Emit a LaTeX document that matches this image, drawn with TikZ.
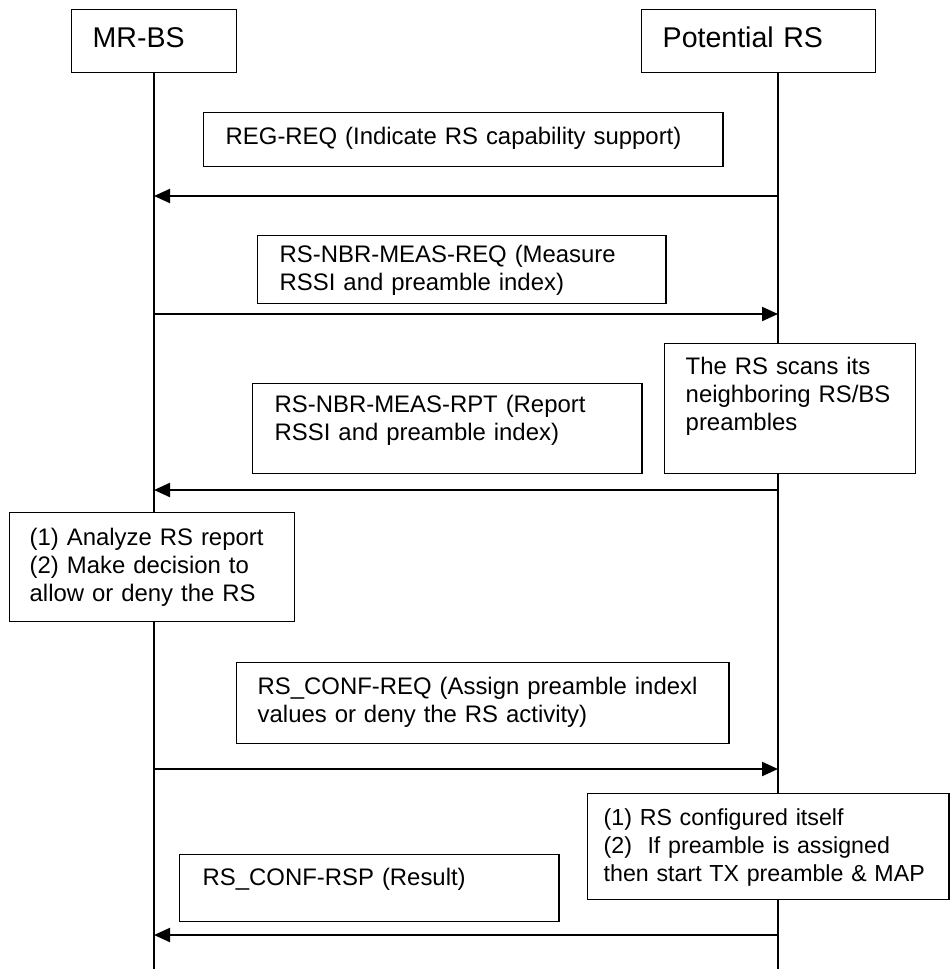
\documentclass[tikz,border=0pt]{standalone}
\usepackage{fontspec}
\setmainfont{Liberation Sans}
\usetikzlibrary{arrows.meta,
    positioning}
\newcommand{\msgfont}{\fontsize{17pt}{19.7pt}\selectfont}
\newcommand{\notefont}{\fontsize{16.5pt}{19.7pt}\selectfont}
\newcommand{\headfont}{\fontsize{20.3pt}{24pt}\selectfont}

\begin{document}
\begin{tikzpicture}[x=0.025cm,y=-0.025cm,
    box/.style={draw, fill=white, line width=1pt, anchor=north west,
        align=left, inner xsep=0.55cm, inner ysep=0pt, font=\msgfont},
    head/.style={box, font=\headfont, inner xsep=0.525cm,
        text height=0.95cm, text depth=0.625cm},
    life/.style={line width=1.2pt},
    msg/.style={line width=1.5pt, -{Triangle[length=0.4cm,width=0.35cm]}}]
                  \useasboundingbox (0,0) rectangle (950,969);
                  % lifelines
                  \coordinate (bsTop) at (154,72);
                  \coordinate (bsEnd) at (154,969);
                  \coordinate (rsTop) at (778,72);
                  \coordinate (rsEnd) at (778,969);
                  \draw[life] (bsTop) -- (bsEnd);
                  \draw[life] (rsTop) -- (rsEnd);
                  % actors
                  \node[head, text width=3.075cm] (mrbs) at (71,9) {MR-BS};
                  \node[head, text width=4.8cm] (potrs) at (641,9) {Potential RS};
                  % message labels
                  \node[box, text width=11.875cm, text height=0.8cm, text depth=0.55cm] (regreq) at (203,112)
                      {REG-REQ (Indicate RS capability support)};
                  \node[box, text width=9.1cm, text height=0.675cm, text depth=1.025cm] (nbrreq) at (257,235)
                      {RS-NBR-MEAS-REQ (Measure\\RSSI and preamble index)};
                  \node[box, inner xsep=0.525cm, text width=5.225cm, text height=0.775cm, text depth=2.475cm] (scan) at (664,343)
                      {The RS scans its\\neighboring RS/BS\\preambles};
                  \node[box, text width=8.625cm, text height=0.725cm, text depth=1.525cm] (nbrrpt) at (252,383)
                      {RS-NBR-MEAS-RPT (Report\\RSSI and preamble index)};
                  \node[box, inner xsep=0.5cm, text width=6.125cm, text height=0.825cm, text depth=1.9cm] (analyze) at (9,512)
                      {(1) Analyze RS report\\(2) Make decision to\\allow or deny the RS};
                  \node[box, inner xsep=0.525cm, text width=11.25cm, text height=0.8cm, text depth=1.225cm] (confreq) at (236,662)
                      {RS\_CONF-REQ (Assign preamble indexl\\values or deny the RS activity)};
                  \node[box, font=\notefont, inner xsep=0.4cm, text width=8.225cm, text height=0.8cm, text depth=1.85cm] (config) at (587,793)
                      {(1) RS configured itself\\(2)\ \ If preamble is assigned\\then start TX preamble \& MAP};
                  \node[box, inner xsep=0.575cm, text width=8.325cm, text height=0.775cm, text depth=0.9cm] (confrsp) at (179,854)
                      {RS\_CONF-RSP (Result)};
                  % messages
                  \coordinate (m1) at (0,196);
                  \coordinate (m2) at (0,314);
                  \coordinate (m3) at (0,490);
                  \coordinate (m4) at (0,769);
                  \coordinate (m5) at (0,935);
                  \draw[msg] (rsTop |- m1) -- (bsTop |- m1);
                  \draw[msg] (bsTop |- m2) -- (rsTop |- m2);
                  \draw[msg] (rsTop |- m3) -- (bsTop |- m3);
                  \draw[msg] (bsTop |- m4) -- (rsTop |- m4);
                  \draw[msg] (rsTop |- m5) -- (bsTop |- m5);
              \end{tikzpicture}
\end{document}
